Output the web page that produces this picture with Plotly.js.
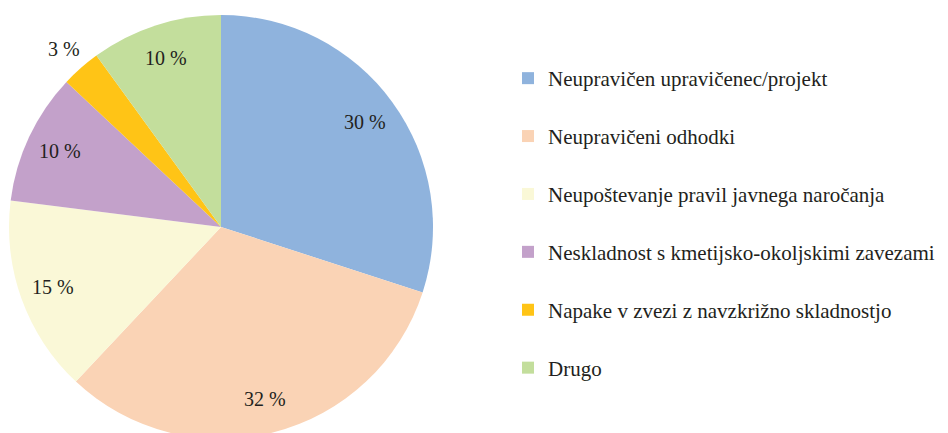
<!DOCTYPE html>
<html>
<head>
<meta charset="utf-8">
<script src="https://cdn.plot.ly/plotly-3.0.1.min.js"></script>
<style>
html,body{margin:0;padding:0;overflow:hidden;background:#fff;}
#chart{width:948px;height:450px;}
</style>
</head>
<body>
<div id="chart"></div>
<script>
const categories = [
  "Neupravičen upravičenec/projekt",
  "Neupravičeni odhodki",
  "Neupoštevanje pravil javnega naročanja",
  "Neskladnost s kmetijsko-okoljskimi zavezami",
  "Napake v zvezi z navzkrižno skladnostjo",
  "Drugo"
];
const values = [30, 32, 15, 10, 3, 10];
const colors = ["#8FB3DD", "#FAD3B5", "#FAF8D7", "#C3A1CA", "#FFC416", "#C3DE9C"];
const labelOutside = [false, false, false, false, true, false];

const FONT = "Liberation Serif";
const TXT = "#231f20";
const W = 948, H = 450;
// pie geometry (layout)
const pieX = [9, 433], pieY = [15, 439]; // pixel box, from top
const cx = (pieX[0] + pieX[1]) / 2, cy = (pieY[0] + pieY[1]) / 2, R = (pieX[1] - pieX[0]) / 2;

const pie = {
  type: "pie",
  labels: categories,
  values: values,
  sort: false,
  direction: "clockwise",
  rotation: 0,
  marker: {colors: colors, line: {width: 0}},
  textinfo: "none",
  hoverinfo: "none",
  showlegend: false,
  domain: {x: [pieX[0] / W, pieX[1] / W], y: [(H - pieY[1]) / H, (H - pieY[0]) / H]}
};

// slice labels placed at slice mid-angles derived from the values
const total = values.reduce((a, b) => a + b, 0);
let cum = 0;
const annotations = values.map((v, i) => {
  const mid = (cum + v / 2) / total * 2 * Math.PI;
  cum += v;
  const r = labelOutside[i] ? 1.12 * R : 0.84 * R;
  const px = cx + r * Math.sin(mid);
  const py = cy - r * Math.cos(mid);
  return {
    xref: "paper", yref: "paper",
    x: px / W, y: (H - py) / H,
    xanchor: "center", yanchor: "middle",
    text: v + " %",
    showarrow: false,
    font: {family: FONT, size: 20, color: TXT}
  };
});

const legendTraces = categories.map((c, i) => ({
  type: "scatter",
  x: [null], y: [null],
  mode: "markers",
  name: c,
  legendgroup: "g" + i,
  marker: {symbol: "square", size: 12, color: colors[i]},
  hoverinfo: "none",
  showlegend: true
}));

const layout = {
  width: W, height: H,
  margin: {l: 0, r: 0, t: 0, b: 0},
  paper_bgcolor: "#fff",
  plot_bgcolor: "#fff",
  xaxis: {visible: false},
  yaxis: {visible: false},
  showlegend: true,
  annotations: annotations,
  legend: {
    x: 508 / W, xanchor: "left",
    y: (H - 58) / H, yanchor: "top",
    font: {family: FONT, size: 21, color: TXT},
    tracegroupgap: 27.6,
    itemwidth: 30,
    bgcolor: "rgba(0,0,0,0)"
  }
};

Plotly.newPlot("chart", [pie, ...legendTraces], layout, {staticPlot: true});
</script>
</body>
</html>
